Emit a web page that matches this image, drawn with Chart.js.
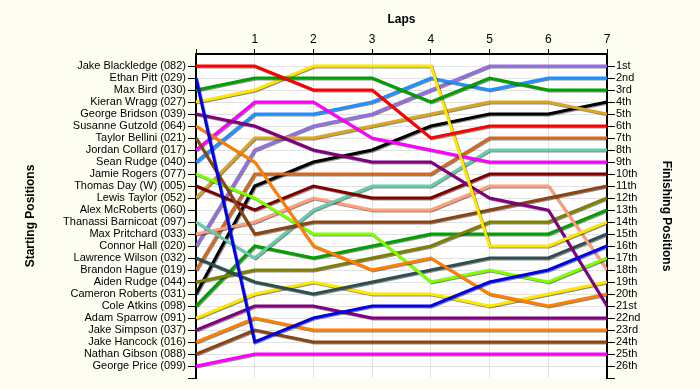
<!DOCTYPE html>
<html><head><meta charset="utf-8">
<script src="https://cdn.jsdelivr.net/npm/chart.js@4.4.1/dist/chart.umd.min.js"></script>
<style>html,body{margin:0;padding:0;background:#FDFDF2;}canvas{display:block;}</style>
</head><body>
<canvas id="c" width="700" height="390"></canvas>
<script>
const laps = [0, 1, 2, 3, 4, 5, 6, 7];
const drivers = [
  'Jake Blackledge (082)', 'Ethan Pitt (029)', 'Max Bird (030)', 'Kieran Wragg (027)',
  'George Bridson (039)', 'Susanne Gutzold (064)', 'Taylor Bellini (021)', 'Jordan Collard (017)',
  'Sean Rudge (040)', 'Jamie Rogers (077)', 'Thomas Day (W) (005)', 'Lewis Taylor (052)',
  'Alex McRoberts (060)', 'Thanassi Barnicoat (097)', 'Max Pritchard (033)', 'Connor Hall (020)',
  'Lawrence Wilson (032)', 'Brandon Hague (019)', 'Aiden Rudge (044)', 'Cameron Roberts (031)',
  'Cole Atkins (098)', 'Adam Sparrow (091)', 'Jake Simpson (037)', 'Jake Hancock (016)',
  'Nathan Gibson (088)', 'George Price (099)'
];
const finishLabels = ['1st','2nd','3rd','4th','5th','6th','7th','8th','9th','10th','11th','12th','13th',
  '14th','15th','16th','17th','18th','19th','20th','21st','22nd','23rd','24th','25th','26th'];

// positions per lap (lap 0 = grid)
const jakeBlackledge   = [1, 1, 3, 3, 7, 6, 6, 6];
const ethanPitt        = [2, 24, 22, 21, 21, 19, 18, 16];
const maxBird          = [3, 2, 2, 2, 4, 2, 3, 3];
const kieranWragg      = [4, 3, 1, 1, 1, 16, 16, 14];
const georgeBridson    = [5, 6, 8, 9, 9, 12, 13, 21];
const susanneGutzold   = [6, 9, 16, 18, 17, 20, 21, 20];
const taylorBellini    = [7, 15, 14, 14, 14, 13, 12, 11];
const jordanCollard    = [8, 4, 4, 7, 8, 9, 9, 9];
const seanRudge        = [9, 5, 5, 4, 2, 3, 2, 2];
const jamieRogers      = [10, 12, 15, 15, 19, 18, 19, 17];
const thomasDay        = [11, 13, 11, 12, 12, 10, 10, 10];
const lewisTaylor      = [12, 7, 7, 6, 5, 4, 4, 5];
const alexMcRoberts    = [13, null, null, null, null, null, null, null];
const thanassiBarnicoat= [14, 17, 13, 11, 11, 8, 8, 8];
const maxPritchard     = [15, 14, 12, 13, 13, 11, 11, 18];
const connorHall       = [16, 8, 6, 5, 3, 1, 1, 1];
const lawrenceWilson   = [17, 19, 20, 19, 18, 17, 17, 15];
const brandonHague     = [18, 10, 10, 10, 10, 7, 7, 7];
const aidenRudge       = [19, 18, 18, 17, 16, 14, 14, 12];
const cameronRoberts   = [20, 11, 9, 8, 6, 5, 5, 4];
const coleAtkins       = [21, 16, 17, 16, 15, 15, 15, 13];
const adamSparrow      = [22, 20, 19, 20, 20, 21, 20, 19];
const jakeSimpson      = [23, 21, 21, 22, 22, 22, 22, 22];
const jakeHancock      = [24, 22, 23, 23, 23, 23, 23, 23];
const nathanGibson     = [25, 23, 24, 24, 24, 24, 24, 24];
const georgePrice      = [26, 25, 25, 25, 25, 25, 25, 25];

const series = [jakeBlackledge, ethanPitt, maxBird, kieranWragg, georgeBridson, susanneGutzold,
  taylorBellini, jordanCollard, seanRudge, jamieRogers, thomasDay, lewisTaylor, alexMcRoberts,
  thanassiBarnicoat, maxPritchard, connorHall, lawrenceWilson, brandonHague, aidenRudge,
  cameronRoberts, coleAtkins, adamSparrow, jakeSimpson, jakeHancock, nathanGibson, georgePrice];

const colors = ['#FF0000', '#0000EE', '#00A000', '#FFE800', '#800080', '#FF8000', '#8B4513', '#FF00FF',
  '#1E90FF', '#7FFF00', '#800000', '#DAA520', '#999999', '#66CDAA', '#FFA07A', '#9370DB',
  '#2F4F4F', '#D2691E', '#808000', '#000000', '#00A000', '#FFE800', '#800080', '#FF8000',
  '#8B4513', '#FF00FF'];

const FONT = 'Liberation Sans, Arial, sans-serif';

const bgPlugin = {
  id: 'bg',
  beforeDraw(chart) {
    const {ctx, chartArea: a} = chart;
    ctx.save();
    ctx.fillStyle = '#FDFDF2';
    ctx.fillRect(0, 0, chart.width, chart.height);
    ctx.fillStyle = '#FFFFFF';
    ctx.fillRect(a.left, a.top, a.right - a.left, a.bottom - a.top);
    ctx.restore();
  }
};
const shadowPlugin = {
  id: 'shadow',
  beforeDatasetsDraw(chart) {
    const c = chart.ctx;
    c.save();
    c.shadowColor = 'rgba(0,0,0,0.45)';
    c.shadowOffsetX = 1;
    c.shadowOffsetY = 1;
    c.shadowBlur = 0;
  },
  afterDatasetsDraw(chart) { chart.ctx.restore(); }
};

const posTicks = (scale) => {
  scale.ticks = [];
  for (let v = 1; v <= 27; v++) scale.ticks.push({value: v});
};

const gridColor = (ctx) => (ctx.tick && ctx.tick.value === 27) ? 'rgba(0,0,0,0)' : '#E2E2E2';

new Chart(document.getElementById('c'), {
  type: 'line',
  data: {
    datasets: series.map((s, i) => ({
      label: drivers[i],
      data: s.map((v, j) => ({x: laps[j], y: v})),
      borderColor: colors[i],
      backgroundColor: colors[i],
      borderWidth: 3,
      pointRadius: 0,
      tension: 0,
      fill: false,
      spanGaps: false
    }))
  },
  options: {
    responsive: false,
    animation: false,
    layout: {padding: {top: 0, left: 0, right: 0, bottom: 12}},
    plugins: {legend: {display: false}, tooltip: {enabled: false}},
    scales: {
      x: {
        type: 'linear', position: 'top', min: 0, max: 7,
        afterBuildTicks: (scale) => { scale.ticks = laps.map(v => ({value: v})); },
        afterFit: (scale) => { scale.height = 54; },
        ticks: {
          autoSkip: false, maxRotation: 0, padding: 2, color: '#000',
          font: {family: FONT, size: 12},
          callback: (v) => v === 0 ? '' : String(v)
        },
        grid: {color: '#E2E2E2', lineWidth: 1, tickLength: 5, tickColor: '#000', tickWidth: 1},
        border: {display: true, color: '#000', width: 2},
        title: {display: true, text: 'Laps', color: '#000',
          font: {family: FONT, size: 12, weight: 'bold'}, padding: {top: 12, bottom: 0}}
      },
      y: {
        type: 'linear', position: 'left', reverse: true, min: 0, max: 27,
        afterBuildTicks: posTicks,
        afterFit: (scale) => { scale.width = 196; },
        ticks: {
          autoSkip: false, padding: 2, color: '#000',
          font: {family: FONT, size: 11},
          callback: (v) => drivers[v - 1] || ''
        },
        grid: {color: gridColor, lineWidth: 1, tickLength: 8, tickColor: '#000', tickWidth: 1},
        border: {display: true, color: '#000', width: 2},
        title: {display: true, text: 'Starting Positions', color: '#000',
          font: {family: FONT, size: 12, weight: 'bold'}, padding: {top: 23, bottom: 0}}
      },
      y2: {
        type: 'linear', position: 'right', reverse: true, min: 0, max: 27,
        afterBuildTicks: posTicks,
        afterFit: (scale) => { scale.width = 93; },
        ticks: {
          autoSkip: false, padding: 1, color: '#000',
          font: {family: FONT, size: 11},
          callback: (v) => finishLabels[v - 1] || ''
        },
        grid: {drawOnChartArea: false, tickLength: 8, tickColor: '#000', tickWidth: 1},
        border: {display: true, color: '#000', width: 2},
        title: {display: true, text: 'Finishing Positions', color: '#000',
          font: {family: FONT, size: 12, weight: 'bold'}, padding: {top: 26, bottom: 0}}
      }
    }
  },
  plugins: [bgPlugin, shadowPlugin]
});
</script>
</body></html>
